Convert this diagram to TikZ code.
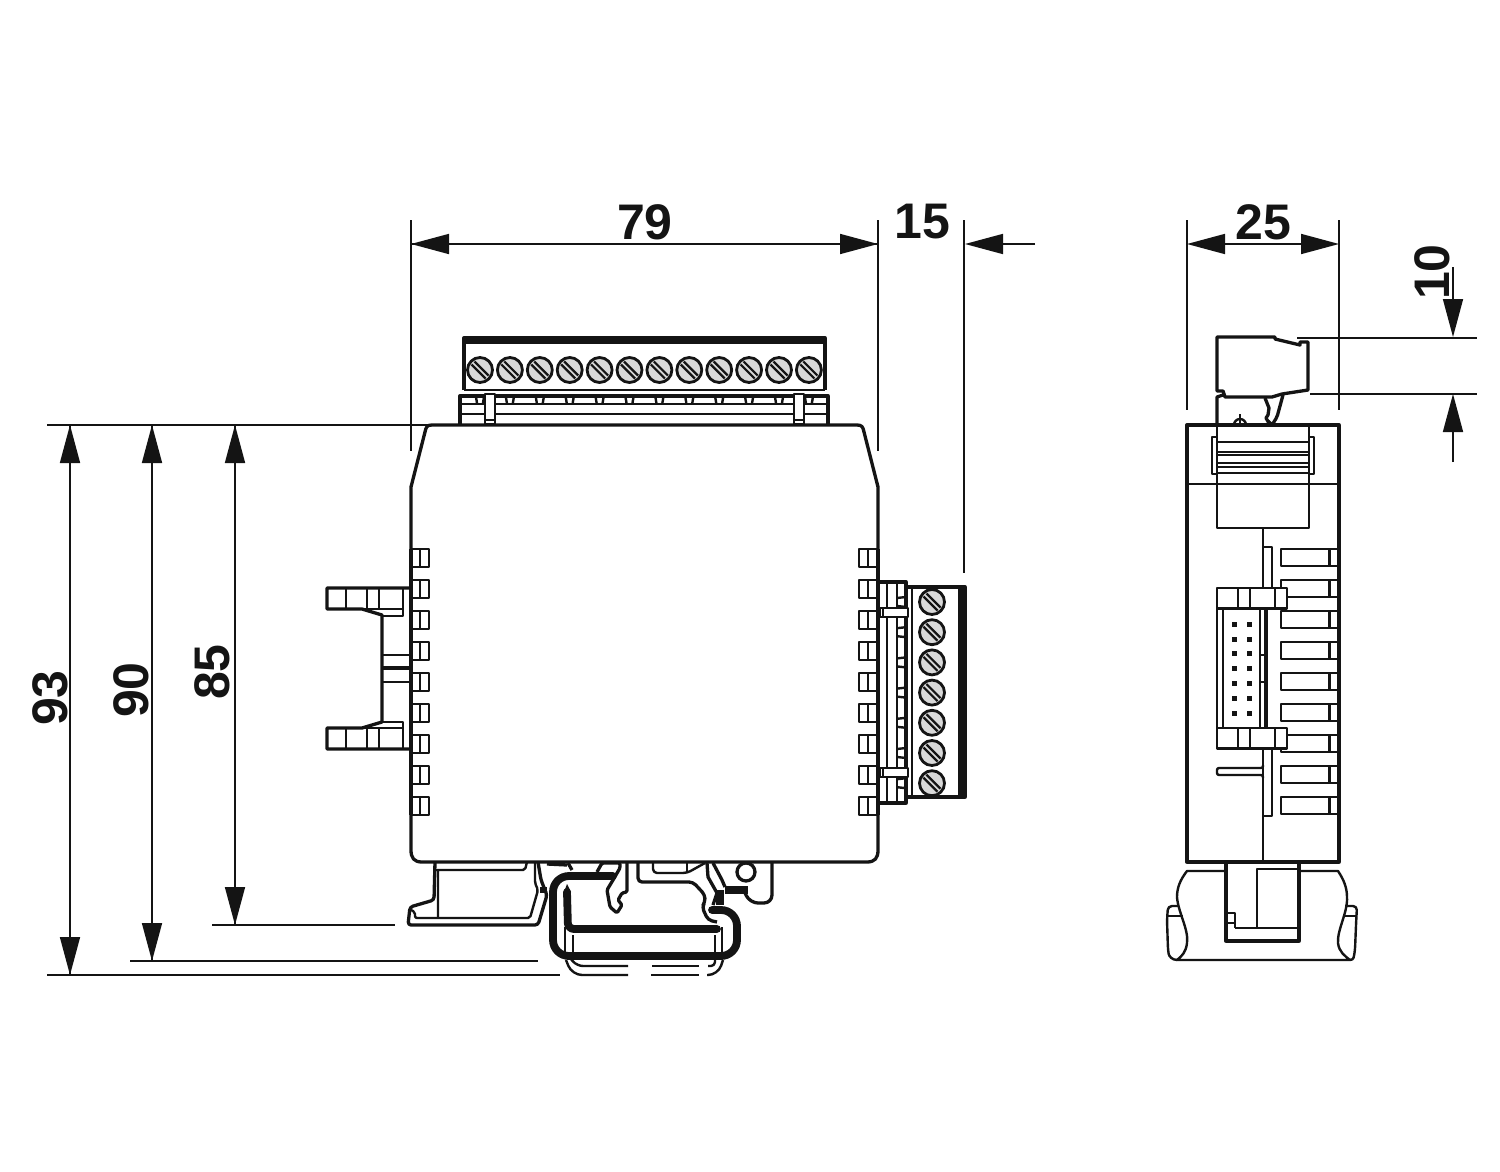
\documentclass[tikz,border=0pt]{standalone}
\usepackage{fontspec}
\setmainfont{Liberation Sans}
\usetikzlibrary{arrows.meta}
\definecolor{ink}{HTML}{141414}
\definecolor{screwfill}{HTML}{D9D9D9}
\tikzset{
  heavy/.style={draw=ink,line width=1.65pt,line join=round},
  med/.style={draw=ink,line width=1.2pt,line join=round},
  light/.style={draw=ink,line width=.9pt},
  rail/.style={draw=ink,line width=3.9pt,line join=round,line cap=round},
  dimline/.style={draw=ink,line width=.8pt},
  dimarrow/.style={dimline,-{Triangle[length=19pt,width=10pt]}},
  dimtext/.style={font=\bfseries\fontsize{25}{25}\selectfont,text=ink,inner sep=0pt},
  pics/screw/.style={code={
    \draw[fill=screwfill,draw=ink,line width=1.4pt] (0,0) circle (12.5);
    \draw[ink,line width=1.1pt] (-8.5,-5.5) -- (5.5,8.5) (-5.5,-8.5) -- (8.5,5.5);
  }}
}
\begin{document}
\begin{tikzpicture}[x=.5pt,y=-.5pt]
\useasboundingbox (0,0) rectangle (1500,1172);
\fill[white] (0,0) rectangle (1500,1172);
% ---------- named dimension points
\coordinate (a79l) at (411,244); \coordinate (a79r) at (878,244);
\coordinate (a15r) at (965,244); \coordinate (a15e) at (1035,244);
\coordinate (a25l) at (1187,244); \coordinate (a25r) at (1339,244);
\coordinate (a25m) at (1263,244);
\coordinate (a10t) at (1453,337); \coordinate (a10te) at (1453,267);
\coordinate (a10b) at (1453,394); \coordinate (a10be) at (1453,462);
\coordinate (a93t) at (70,425); \coordinate (a93b) at (70,975);
\coordinate (a90t) at (152,425); \coordinate (a90b) at (152,961);
\coordinate (a85t) at (235,425); \coordinate (a85b) at (235,925);
% extension lines
\draw[dimline] (411,220) -- (411,451) (878,220) -- (878,451) (964,220) -- (964,573);
\draw[dimline] (1187,220) -- (1187,410) (1339,220) -- (1339,410);
\draw[dimline] (1297,338) -- (1477,338) (1310,394) -- (1477,394);
\draw[dimline] (47,425) -- (428,425);
\draw[dimline] (212,925) -- (395,925) (130,961) -- (538,961) (47,975) -- (560,975);
% dimension arrows
\draw[dimarrow] (a79r) -- (a79l);
\draw[dimarrow] (a79l) -- (a79r);
\draw[dimarrow] (a15e) -- (a15r);
\draw[dimarrow] (a25m) -- (a25l);
\draw[dimarrow] (a25m) -- (a25r);
\draw[dimarrow] (a10te) -- (a10t);
\draw[dimarrow] (a10be) -- (a10b);
\draw[dimarrow] (a93b) -- (a93t);
\draw[dimarrow] (a93t) -- (a93b);
\draw[dimarrow] (a90b) -- (a90t);
\draw[dimarrow] (a90t) -- (a90b);
\draw[dimarrow] (a85b) -- (a85t);
\draw[dimarrow] (a85t) -- (a85b);
\node[dimtext] (t79) at (645,222) {79};
\node[dimtext] (t15) at (922,222) {15};
\node[dimtext] (t25) at (1263,222) {25};
\node[dimtext,rotate=90] (t10) at (1432,272) {10};
\node[dimtext,rotate=90] (t93) at (50,698) {93};
\node[dimtext,rotate=90] (t90) at (131,690) {90};
\node[dimtext,rotate=90] (t85) at (212,672) {85};
% main body
\draw[heavy,fill=white] (411,487) -- (425,432) .. controls (426,427) and (427,425) .. (432,425) -- (857,425) .. controls (862,425) and (863,427) .. (864,432) -- (878,487) -- (878,850) .. controls (878,858) and (875,862) .. (867,862) -- (422,862) .. controls (414,862) and (411,858) .. (411,850) -- cycle;
% side boxes
\foreach \y in {549,580,611,642,673,704,735,766,797}{
  \draw[med] (411,\y) rectangle (429,\y+18) (420,\y) -- (420,\y+18);
  \draw[med] (859,\y) rectangle (878,\y+18) (868,\y) -- (868,\y+18);
}
\draw[heavy] (411,549) -- (411,815) (878,549) -- (878,815);
% top terminal block
\draw[heavy] (464,390) -- (464,338) -- (825,338) -- (825,390);
\fill[ink] (464,337) rectangle (825,342);
\draw[light] (464,343) -- (825,343) (464,390) -- (825,390);
\foreach \i in {0,...,11}{
  \path (480+29.9*\i,370) pic {screw};
  \draw[med] (476+29.9*\i,397) -- (477+29.9*\i,403) (484+29.9*\i,397) -- (483+29.9*\i,403);
}
\draw[heavy] (460,425) -- (460,396) -- (828,396) -- (828,425);
\draw[med] (460,404) -- (828,404) (460,414) -- (828,414) (460,425) -- (828,425);
\foreach \x in {485,794}{
  \draw[med,fill=white] (\x,394) rectangle (\x+10,424);
  \draw[light] (\x,420) -- (\x+10,420);
}
% left tabs
\draw[heavy] (411,588) -- (327,588) -- (327,609) -- (362,609) -- (382,615) -- (382,722) -- (362,728) -- (327,728) -- (327,749) -- (411,749);
\draw[med] (346,588) -- (346,609) (367,588) -- (367,609) (379,588) -- (379,609) (403,588) -- (403,616) -- (382,616) (362,609) -- (403,609);
\draw[med] (346,728) -- (346,749) (367,728) -- (367,749) (379,728) -- (379,749) (403,749) -- (403,722) -- (382,722) (362,728) -- (403,728);
\draw[med] (382,655) -- (411,655) (382,682) -- (411,682);
\draw[draw=ink,line width=2.2pt] (382,668) -- (411,668);
% right terminal block
\draw[heavy] (906,587) -- (965,587) -- (965,797) -- (906,797);
\fill[ink] (958,587) rectangle (965,798);
\draw[heavy] (878,582) -- (906,582) -- (906,803) -- (878,803);
\draw[med] (912,587) -- (912,797) (887,582) -- (887,803) (897,582) -- (897,803);
\foreach \i in {0,...,6}{
  \path (932,602+30.2*\i) pic {screw};
  \draw[med] (897,598+30.2*\i) -- (906,597+30.2*\i) (897,606+30.2*\i) -- (906,607+30.2*\i);
}
\foreach \y in {608,768}{
  \draw[med,fill=white] (880,\y) rectangle (908,\y+9);
  \draw[light] (883,\y) -- (883,\y+9);
}
% ---------- DIN foot, front view
\draw[heavy,rounded corners=1.5pt] (435,862) -- (434,900) -- (410,907) -- (408,925) -- (538,925) -- (547,895) -- (541,880) -- (538,862);
\draw[med,rounded corners=1pt] (438,870) -- (438,918) (436,870) -- (525,870) -- (527,862);
\draw[med,rounded corners=1pt] (411,910) -- (415,912) -- (415,918) -- (530,918) -- (538,890) -- (535,883) -- (535,862);
\draw[heavy] (547,864) -- (567,865) (568,863) -- (572,870);
\draw[draw=ink,line width=3pt] (540,890) -- (547,890);
% latch
\draw[heavy,rounded corners=.7pt] (597,872) -- (602,863) -- (620,863) -- (620,868) -- (613,880) -- (607,890) -- (610,907) -- (617,913) -- (622,905) -- (618,900) -- (622,893) -- (627,892) -- (627,862);
\draw[heavy,rounded corners=2pt] (638,862) -- (638,882) -- (693,882) -- (705,895) -- (705,902) -- (702,907) -- (708,920) -- (717,922);
\draw[med,rounded corners=2pt] (653,863) -- (653,873) -- (687,873) -- (705,863);
\draw[med] (687,862) -- (687,873);
\draw[heavy] (707,863) -- (708,877) -- (717,893) -- (713,905) (713,863) -- (722,880) -- (725,887);
\draw[heavy] (746,872) circle (9);
\draw[heavy,rounded corners=4pt] (772,862) -- (772,903) -- (750,903) -- (745,893);
% thin lines behind the rail
\draw[med] (565,927) -- (565,953) (573,935) -- (573,953) (715,935) -- (715,953) (722,927) -- (722,953);
\draw[med,rounded corners=3pt] (570,958) -- (577,966) -- (628,966);
\draw[med] (652,966) -- (699,966);
\draw[med,rounded corners=2pt] (708,966) -- (715,966) -- (715,960);
\draw[med,rounded corners=5pt] (566,960) -- (572,975) -- (628,975);
\draw[med] (651,975) -- (699,975);
\draw[med,rounded corners=5pt] (707,975) -- (718,975) -- (723,960);
% rail
\draw[rail,rounded corners=8pt] (613,876) -- (553,876) -- (553,956) -- (737,956) -- (737,910) -- (712,910);
\draw[rail,rounded corners=3pt] (567,892) -- (568,929) -- (717,929);
\fill[ink] (564,892) -- (567,884) -- (571,892) -- cycle;
\draw[rail,line cap=butt] (725,890) -- (748,890) (720,890) -- (720,905);
% ---------- SIDE VIEW
\foreach \y in {549,580,611,642,673,704,735,766,797}{
  \draw[med] (1339,\y) -- (1281,\y) -- (1281,\y+17) -- (1339,\y+17);
  \draw[med] (1329.5,\y) -- (1329.5,\y+17);
}
\draw[med] (1187,484) -- (1339,484);
\draw[heavy] (1187,862) -- (1187,425) -- (1339,425) -- (1339,862) -- cycle;
\draw[med] (1263,528) -- (1263,588) (1263,748) -- (1263,862);
\draw[med] (1264,547) -- (1272,547) -- (1272,588) (1272,748) -- (1272,816) -- (1263,816);
% top connector side
\draw[heavy] (1217,391) -- (1217,337) -- (1275,337) -- (1275,339) -- (1300,345) -- (1300,342) -- (1308,342) -- (1308,390) -- (1282,394) -- (1272,397) -- (1225,397) -- (1223,391) -- cycle;
\draw[heavy] (1223,395) -- (1217,397) -- (1217,425);
\draw[heavy,rounded corners=1pt] (1283,395) -- (1277,417) -- (1272,425) -- (1268,421);
\draw[heavy] (1265,398) -- (1269,408) -- (1268,415) -- (1266,418) -- (1270,425);
\draw[med] (1234,425) arc (180:0:3pt);
\draw[light] (1240,414) -- (1240,425);
% tab
\draw[med] (1212,437) rectangle (1217,474) (1309,437) rectangle (1314,474);
\draw[med] (1217,425) rectangle (1309,528);
\draw[med] (1217,442) -- (1309,442) (1217,473) -- (1309,473);
\draw[light] (1217,452) -- (1309,452) (1217,455) -- (1309,455) (1217,463) -- (1309,463) (1217,467) -- (1309,467);
% flat connector
\draw[med,fill=white] (1217,609) rectangle (1267,728);
\draw[med] (1223,609) -- (1223,728) (1260,609) -- (1260,728) (1265,609) -- (1265,728);
\draw[light] (1260,655) -- (1265,655) (1260,682) -- (1265,682);
\foreach \y in {624,639,653,668,683,698,713}{
  \fill[ink] (1231.5,\y-2.5) rectangle (1236.5,\y+2.5);
  \fill[ink] (1246.5,\y-2.5) rectangle (1251.5,\y+2.5);
}
\foreach \y in {588,728}{
  \draw[med,fill=white] (1217,\y) rectangle (1287,\y+20.5);
  \draw[med] (1238,\y) -- (1238,\y+20.5) (1250,\y) -- (1250,\y+20.5) (1275,\y) -- (1275,\y+20.5);
}
\draw[med,rounded corners=1pt] (1263,765) -- (1263,768) -- (1217,768) -- (1217,775) -- (1263,775) -- (1263,778);
% side foot
\draw[heavy] (1226,862) -- (1226,941) -- (1299,941) -- (1299,862);
\draw[med] (1257,928) -- (1257,869) -- (1298,869);
\draw[med] (1235,928) -- (1298,928);
\draw[med] (1227,913) -- (1235,913) -- (1235,928) (1227,923) -- (1235,923);
\draw[med] (1225,871) -- (1187,871) .. controls (1180,880) and (1177,888) .. (1177,897) .. controls (1178,912) and (1189,930) .. (1187,943) .. controls (1186,952) and (1182,956) .. (1177,960) -- (1350,960) .. controls (1345,956) and (1339,952) .. (1338,943) .. controls (1337,930) and (1348,912) .. (1347,897) .. controls (1347,888) and (1344,880) .. (1338,871) -- (1298,871);
\draw[med,rounded corners=2pt] (1178,906) -- (1168,906) -- (1167,920) -- (1168,950) .. controls (1169,956) and (1172,960) .. (1177,960);
\draw[med,rounded corners=2pt] (1345,906) -- (1357,906) -- (1356,925) -- (1355,950) .. controls (1354,956) and (1354,960) .. (1350,960);
\draw[med] (1168,916) -- (1183,916) (1345,916) -- (1357,916);
\end{tikzpicture}
\end{document}
